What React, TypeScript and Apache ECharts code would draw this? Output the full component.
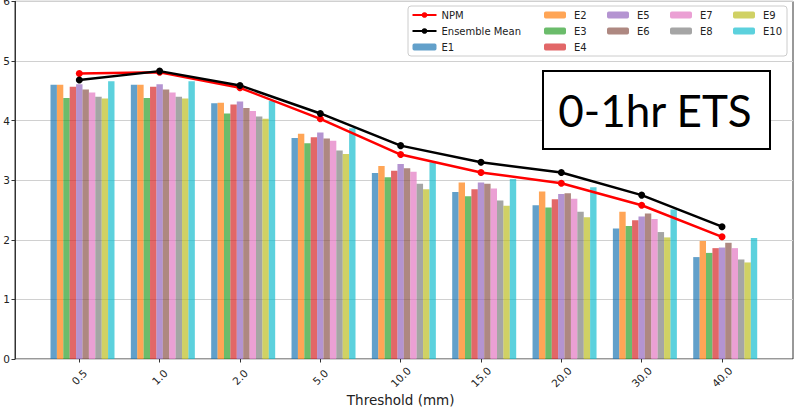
import React, { useEffect, useRef } from "react";
import * as echarts from "echarts";

const categories = ["0.5", "1.0", "2.0", "5.0", "10.0", "15.0", "20.0", "30.0", "40.0"];
const npm = [4.79, 4.81, 4.55, 4.03, 3.43, 3.13, 2.95, 2.58, 2.05];
const ensembleMean = [4.68, 4.83, 4.59, 4.12, 3.58, 3.3, 3.13, 2.75, 2.22];
const e1 = [4.6, 4.6, 4.29, 3.71, 3.12, 2.8, 2.58, 2.19, 1.71];
const e2 = [4.6, 4.6, 4.3, 3.78, 3.24, 2.96, 2.81, 2.47, 1.98];
const e3 = [4.38, 4.38, 4.12, 3.62, 3.05, 2.73, 2.54, 2.23, 1.78];
const e4 = [4.57, 4.57, 4.27, 3.72, 3.16, 2.85, 2.68, 2.33, 1.86];
const e5 = [4.61, 4.61, 4.32, 3.8, 3.27, 2.96, 2.77, 2.39, 1.87];
const e6 = [4.52, 4.52, 4.21, 3.7, 3.2, 2.94, 2.78, 2.44, 1.95];
const e7 = [4.47, 4.47, 4.16, 3.66, 3.14, 2.86, 2.69, 2.35, 1.86];
const e8 = [4.4, 4.4, 4.07, 3.5, 2.94, 2.66, 2.47, 2.13, 1.67];
const e9 = [4.37, 4.37, 4.03, 3.44, 2.85, 2.57, 2.38, 2.04, 1.62];
const e10 = [4.66, 4.66, 4.33, 3.87, 3.3, 3.02, 2.88, 2.51, 2.03];

const memberNames = ["E1", "E2", "E3", "E4", "E5", "E6", "E7", "E8", "E9", "E10"];
const memberValues = [e1, e2, e3, e4, e5, e6, e7, e8, e9, e10];
const memberColors = ["#1f77b4", "#ff7f0e", "#2ca02c", "#d62728", "#9467bd", "#8c564b", "#e377c2", "#7f7f7f", "#bcbd22", "#17becf"];

const yTicksMax = 6;
const FONT = "DejaVu Sans";

export default function App() {
  const ref = useRef<HTMLDivElement>(null);
  useEffect(() => {
    document.body.style.margin = "0";
    if (!ref.current) return;
    const chart = echarts.init(ref.current, null, { renderer: "svg" });
    const top = 1.4;
    const height = 357.6;
    const band = 80.34;
    const gridW = band * categories.length;
    const legendText = { fontSize: 10, lineHeight: 12, fontFamily: FONT, color: "#222" };
    const legendBase = {
      orient: "vertical",
      itemWidth: 22,
      itemHeight: 7,
      itemGap: 4,
      padding: 0,
      textStyle: legendText,
      z: 5,
    };
    const option: any = {
      animation: false,
      grid: [
        { left: 15, top, width: 778, height, show: true, borderColor: "#333", borderWidth: 1, backgroundColor: "transparent", outerBoundsMode: "none", containLabel: false },
        { left: 79.3 - band / 2, top, width: gridW, height, outerBoundsMode: "none", containLabel: false },
        { left: 79.3 + 3.2 - band / 2, top, width: gridW, height, outerBoundsMode: "none", containLabel: false },
      ],
      xAxis: [
        { gridIndex: 0, type: "value", min: 0, max: 1, show: false },
        {
          gridIndex: 1,
          type: "category",
          data: categories,
          boundaryGap: true,
          axisLine: { show: false },
          axisTick: { show: true, alignWithLabel: true, length: 3.5, lineStyle: { color: "#333" } },
          axisLabel: {
            rotate: 45,
            align: "center",
            verticalAlign: "middle",
            margin: 18,
            fontSize: 10.5,
            fontFamily: FONT,
            color: "#222",
          },
          name: "Threshold (mm)",
          nameLocation: "middle",
          nameGap: 33,
          nameMoveOverlap: false,
          nameTextStyle: { fontSize: 13.5, lineHeight: 15, fontFamily: FONT, color: "#222" },
        },
        { gridIndex: 2, type: "category", data: categories, show: false },
      ],
      yAxis: [
        {
          gridIndex: 0,
          type: "value",
          min: 0,
          max: yTicksMax,
          interval: 1,
          axisLine: { show: true, lineStyle: { color: "#333" } },
          axisTick: { show: true, length: 3.5, lineStyle: { color: "#333" } },
          axisLabel: { fontSize: 10.5, fontFamily: FONT, color: "#222", margin: 5 },
          splitLine: { show: true, lineStyle: { color: "#d0d0d0", width: 1 } },
        },
        { gridIndex: 1, type: "value", min: 0, max: yTicksMax, show: false },
        { gridIndex: 2, type: "value", min: 0, max: yTicksMax, show: false },
      ],
      legend: [
        { ...legendBase, itemWidth: 24, left: 411.5, top: 9, data: ["NPM", "Ensemble Mean", "E1"] },
        { ...legendBase, left: 544, top: 9, data: ["E2", "E3", "E4"], textStyle: { ...legendText, padding: [0, 0, 0, 3] } },
        { ...legendBase, left: 607, top: 9, data: ["E5", "E6"], textStyle: { ...legendText, padding: [0, 0, 0, 3] } },
        { ...legendBase, left: 670, top: 9, data: ["E7", "E8"], textStyle: { ...legendText, padding: [0, 0, 0, 3] } },
        { ...legendBase, left: 733, top: 9, data: ["E9", "E10"], textStyle: { ...legendText, padding: [0, 0, 0, 3] } },
      ],
      graphic: [
        {
          type: "rect",
          z: 4,
          shape: { x: 408, y: 6, width: 379, height: 50, r: 3 },
          style: { fill: "rgba(255,255,255,0.85)", stroke: "#cccccc", lineWidth: 1 },
        },
        {
          type: "rect",
          z: 4,
          shape: { x: 543, y: 71, width: 227, height: 78 },
          style: { fill: "#ffffff", stroke: "#000000", lineWidth: 2 },
        },
        {
          type: "text",
          z: 5,
          x: 655,
          y: 110,
          style: {
            text: "0-1hr ETS",
            font: "44px Lato",
            fill: "#000000",
            align: "center",
            verticalAlign: "middle",
          },
        },
      ],
      series: [
        ...memberNames.map((name, i) => ({
          name,
          type: "bar",
          xAxisIndex: 2,
          yAxisIndex: 2,
          data: memberValues[i],
          barWidth: 6.4,
          barGap: "0%",
          itemStyle: { color: memberColors[i], opacity: 0.7 },
          z: 2,
        })),
        {
          name: "NPM",
          type: "line",
          xAxisIndex: 1,
          yAxisIndex: 1,
          data: npm,
          symbol: "circle",
          symbolSize: 7,
          lineStyle: { color: "#ff0000", width: 2.5 },
          itemStyle: { color: "#ff0000" },
          z: 3,
        },
        {
          name: "Ensemble Mean",
          type: "line",
          xAxisIndex: 1,
          yAxisIndex: 1,
          data: ensembleMean,
          symbol: "circle",
          symbolSize: 7,
          lineStyle: { color: "#000000", width: 2.5 },
          itemStyle: { color: "#000000" },
          z: 3,
        },
      ],
    };
    chart.setOption(option);
    return () => chart.dispose();
  }, []);
  return <div ref={ref} style={{ width: 797, height: 409 }} />;
}
